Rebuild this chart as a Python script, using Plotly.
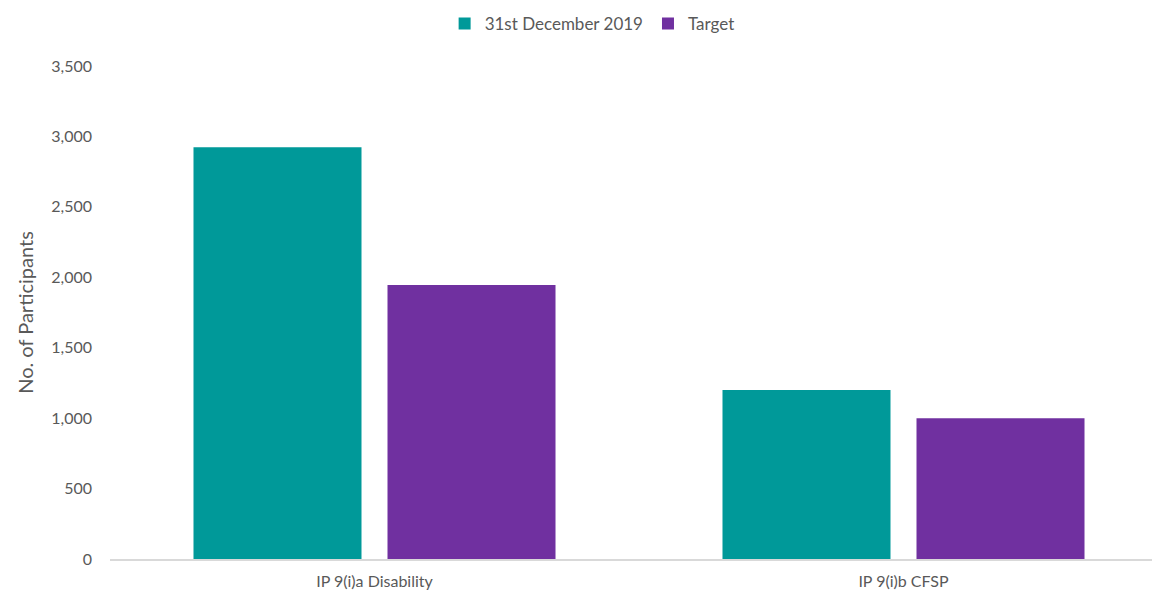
import plotly.graph_objects as go

categories = ["IP 9(i)a Disability", "IP 9(i)b CFSP"]
dec_2019 = [2923, 1200]
target = [1945, 1000]
y_ticks = [0, 500, 1000, 1500, 2000, 2500, 3000, 3500]
y_tick_labels = ["0", "500", "1,000", "1,500", "2,000", "2,500", "3,000", "3,500"]

TEAL = "#009999"
PURPLE = "#7030A0"
GREY_TEXT = "#595959"
FONT = "Lato, 'Open Sans', sans-serif"

x_pos = list(range(len(categories)))

fig = go.Figure()
fig.add_trace(go.Bar(x=x_pos, y=dec_2019, name="31st December 2019",
                     marker=dict(color=TEAL, line=dict(width=0))))
fig.add_trace(go.Bar(x=x_pos, y=target, name="Target",
                     marker=dict(color=PURPLE, line=dict(width=0))))

W, H = 1152, 592
L, R, T, B = 110, 0, 66, 33
cat_px = 529  # pixel width of one category slot
plot_w = W - L - R

fig.update_layout(
    width=W, height=H,
    margin=dict(l=L, r=R, t=T, b=B, pad=0),
    paper_bgcolor="white", plot_bgcolor="white",
    font=dict(family=FONT, color=GREY_TEXT, size=16),
    barmode="group", bargap=0.2665, bargroupgap=0.134,
    showlegend=True,
    legend=dict(orientation="h", xref="container", yref="container",
                x=0.514, y=1 - 24 / H, xanchor="center", yanchor="middle",
                font=dict(size=17, color=GREY_TEXT), itemwidth=30,
                traceorder="normal"),
    xaxis=dict(
        range=[-0.5, -0.5 + plot_w / cat_px],
        tickvals=x_pos, ticktext=categories,
        showgrid=False, zeroline=False,
        showline=True, linecolor="#d9d9d9", linewidth=1.5,
        ticks="", ticklabelstandoff=7, automargin=False,
        tickfont=dict(size=16, color=GREY_TEXT),
    ),
    yaxis=dict(
        range=[0, 3500], tickvals=y_ticks, ticktext=y_tick_labels,
        showgrid=False, zeroline=False, showline=False,
        ticks="", ticklabelstandoff=17, automargin=False,
        tickfont=dict(size=16, color=GREY_TEXT),
        title=dict(text="No. of Participants", standoff=12,
                   font=dict(size=20, color=GREY_TEXT)),
    ),
)

fig.write_html("out.html")
